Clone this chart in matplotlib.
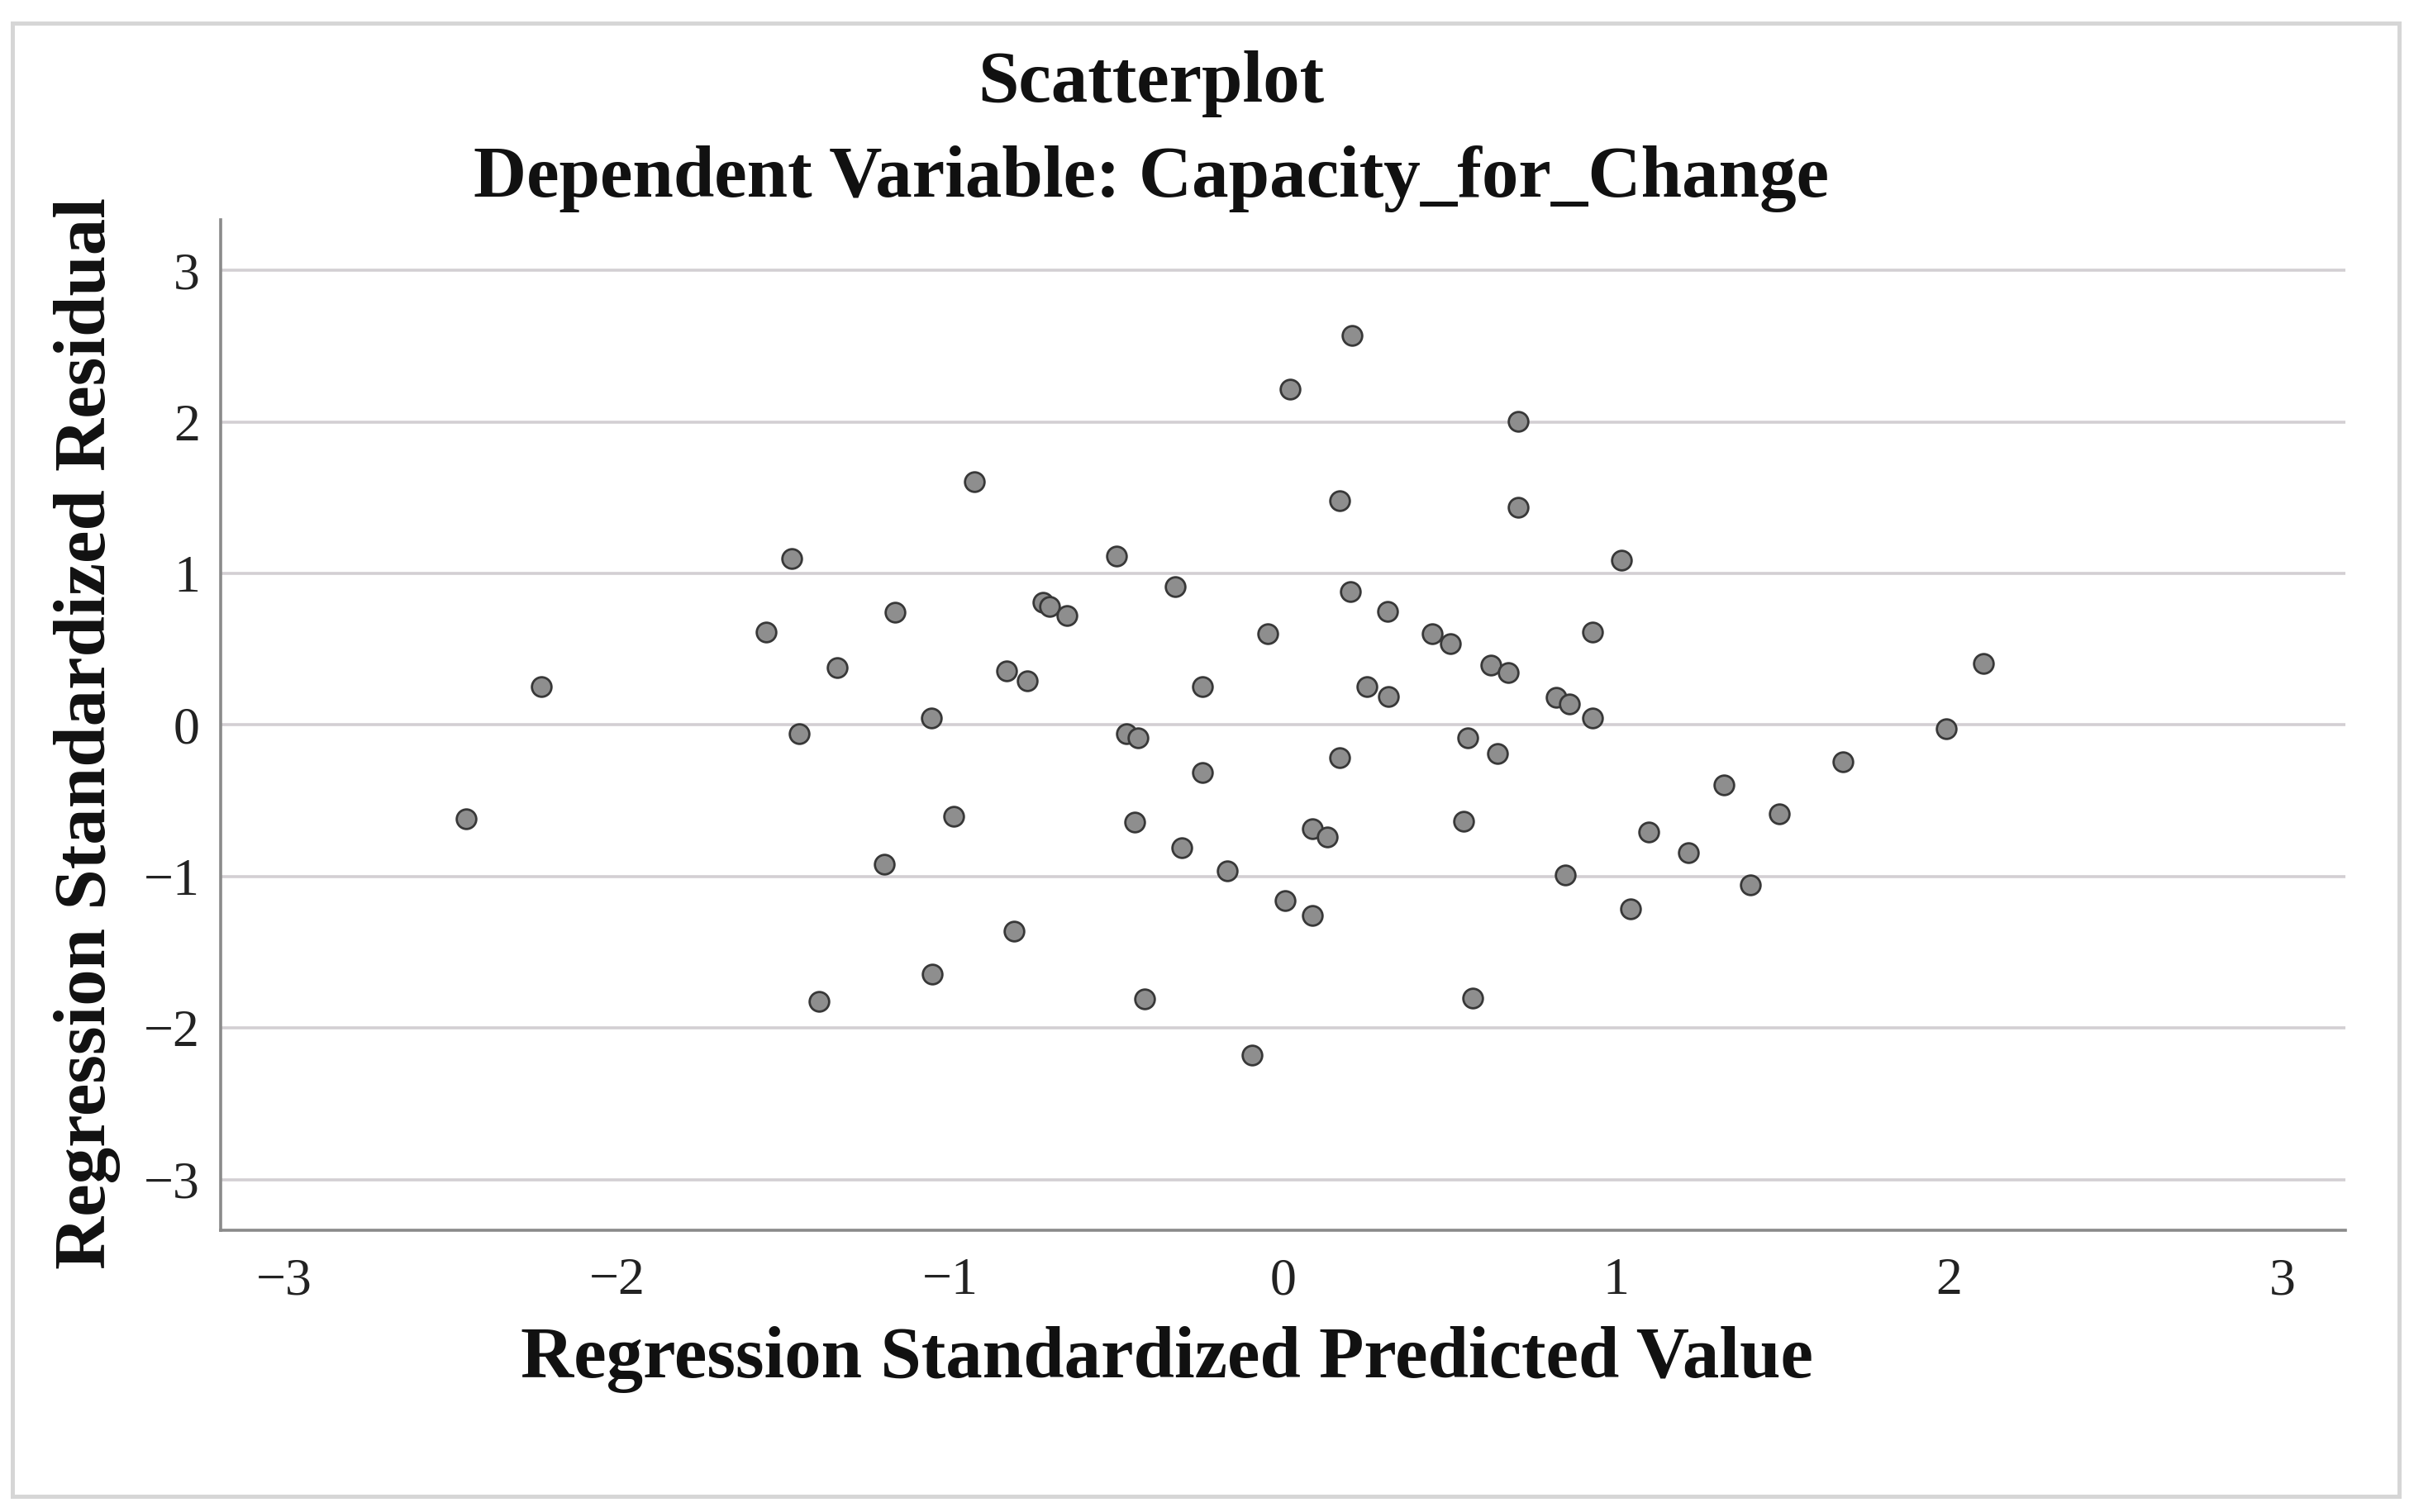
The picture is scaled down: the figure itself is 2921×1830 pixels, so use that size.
import matplotlib
matplotlib.use("Agg")
import matplotlib.pyplot as plt
from matplotlib.patches import Rectangle

# ---- data ----
predicted = [-2.454, -2.226, -1.551, -1.476, -1.454, -1.393, -1.340, -1.197, -1.166, -1.055,
             -1.054, -0.990, -0.926, -0.829, -0.808, -0.767, -0.722, -0.701, -0.648, -0.499,
             -0.470, -0.435, -0.446, -0.416, -0.324, -0.303, -0.241, -0.241, -0.167, -0.093,
             -0.046, 0.007, 0.021, 0.088, 0.132, 0.088, 0.171, 0.171, 0.202, 0.208,
             0.253, 0.313, 0.316, 0.449, 0.503, 0.541, 0.555, 0.570, 0.624, 0.645,
             0.676, 0.705, 0.705, 0.819, 0.859, 0.847, 0.930, 0.930, 1.015, 1.044,
             1.097, 1.218, 1.323, 1.404, 1.489, 1.681, 1.992, 2.104]
residual = [-0.619, 0.252, 0.614, 1.097, -0.059, -1.823, 0.377, -0.917, 0.743, 0.047,
            -1.645, -0.600, 1.604, 0.356, -1.363, 0.291, 0.808, 0.780, 0.720, 1.114,
            -0.055, -0.087, -0.643, -1.807, 0.914, -0.809, 0.256, -0.313, -0.960, -2.178,
            0.601, -1.158, 2.218, -0.686, -0.738, -1.255, 1.481, -0.216, 0.881, 2.569,
            0.256, 0.752, 0.187, 0.601, 0.539, -0.636, -0.085, -1.800, 0.398, -0.190,
            0.345, 2.002, 1.438, 0.180, 0.137, -0.988, 0.614, 0.047, 1.086, -1.212,
            -0.705, -0.845, -0.395, -1.057, -0.587, -0.244, -0.022, 0.409]
xticks = [-3, -2, -1, 0, 1, 2, 3]
yticks = [-3, -2, -1, 0, 1, 2, 3]
title_lines = ["Scatterplot", "Dependent Variable: Capacity_for_Change"]
xlabel = "Regression Standardized Predicted Value"
ylabel = "Regression Standardized Residual"

W, H = 2921, 1830
DPI = 100
plt.rcParams['font.family'] = ['Liberation Serif', 'DejaVu Serif']

fig = plt.figure(figsize=(W / DPI, H / DPI), dpi=DPI)
fig.patch.set_facecolor('white')

def fx(px):
    return px / W

def fy(py):
    return 1 - py / H

# outer light frame
fig.patches.append(Rectangle((fx(15), fy(1811)), fx(2903) - fx(15), fy(28) - fy(1811),
                             transform=fig.transFigure, fill=False,
                             edgecolor='#d6d6d6', linewidth=3.6, zorder=0))

ax = fig.add_axes([fx(267), fy(1489), fx(2838) - fx(267), fy(266) - fy(1489)])
ax.set_xlim(-3.19, 3.19)
ax.set_ylim(-3.335, 3.335)

ax.set_axisbelow(True)
ax.yaxis.grid(True, color='#d3cfd3', linewidth=2.6)
ax.xaxis.grid(False)

ax.scatter(predicted, residual, s=290, facecolor='#8e8e8e', edgecolor='#383838',
           linewidths=2.0, zorder=3)

ax.set_xticks(xticks)
ax.set_yticks(yticks)
ax.set_xticklabels([str(t).replace('-', '\u2212') for t in xticks])
ax.set_yticklabels([str(t).replace('-', '\u2212') for t in yticks])
ax.tick_params(axis='both', length=0, labelsize=46, colors='#222222')
ax.tick_params(axis='x', pad=24)
ax.tick_params(axis='y', pad=18)

for side in ['top', 'right']:
    ax.spines[side].set_visible(False)
for side in ['left', 'bottom']:
    ax.spines[side].set_color('#8a8a8a')
    ax.spines[side].set_linewidth(2.6)

# titles and axis labels
fig.text(fx(1393), fy(123), title_lines[0], ha='center', va='baseline',
         fontsize=64, fontweight='bold', color='#111111')
fig.text(fx(1393), fy(238), title_lines[1], ha='center', va='baseline',
         fontsize=64, fontweight='bold', color='#111111')
fig.text(fx(1412), fy(1667), xlabel, ha='center', va='baseline',
         fontsize=64, fontweight='bold', color='#111111')
fig.text(fx(127), fy(887), ylabel, ha='center', va='baseline', rotation=90,
         rotation_mode='anchor', fontsize=64, fontweight='bold', color='#111111')

fig.savefig('out.png', dpi=DPI, facecolor='white')
